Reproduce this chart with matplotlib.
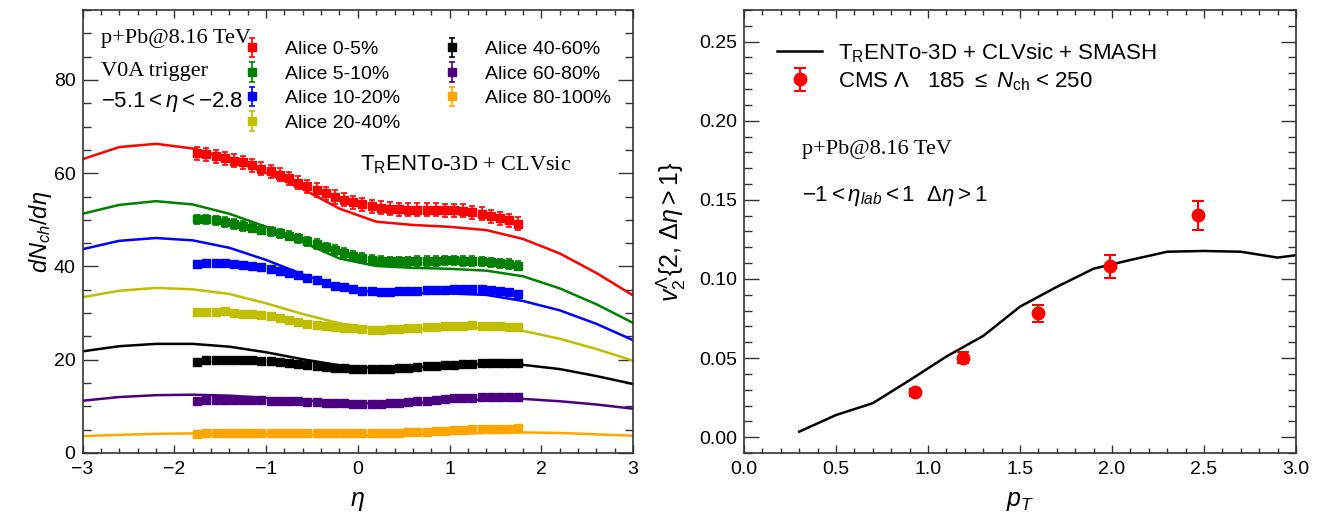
import numpy as np
import matplotlib
matplotlib.use("Agg")
import matplotlib.pyplot as plt
from matplotlib.ticker import MultipleLocator, FormatStrFormatter

plt.rcParams['font.family'] = ['Liberation Sans', 'DejaVu Sans']
plt.rcParams['mathtext.fontset'] = 'custom'
plt.rcParams['mathtext.rm'] = 'Liberation Sans'
plt.rcParams['mathtext.it'] = 'Liberation Sans:italic'
plt.rcParams['mathtext.bf'] = 'Liberation Sans:bold'
plt.rcParams['mathtext.sf'] = 'Liberation Sans'

# ---- left panel: dNch/deta, ALICE data (eta bins of 0.1) ----
eta_data = np.round(np.arange(-1.75, 1.76, 0.1), 2)

alice_0_5 = [64.3, 64.1, 63.6, 63.2, 62.7, 62.3, 61.7, 61.0, 60.4, 59.7, 58.9, 58.0, 57.2, 56.4,
             55.7, 54.9, 54.3, 53.8, 53.3, 52.9, 52.6, 52.4, 52.3, 52.2, 52.2, 52.2, 52.2, 52.1,
             52.1, 51.9, 51.6, 51.3, 50.8, 50.3, 49.9, 49.2]
alice_5_10 = [50.1, 50.1, 49.9, 49.5, 49.1, 48.7, 48.3, 47.9, 47.5, 47.1, 46.6, 46.0, 45.4, 44.8,
              44.1, 43.5, 42.9, 42.3, 41.8, 41.4, 41.2, 41.1, 41.1, 41.1, 41.2, 41.2, 41.2, 41.3,
              41.3, 41.2, 41.2, 41.1, 40.9, 40.7, 40.5, 40.2]
alice_10_20 = [40.6, 40.8, 40.8, 40.7, 40.5, 40.3, 40.1, 39.8, 39.5, 39.1, 38.6, 38.1, 37.5, 37.0,
               36.4, 35.9, 35.5, 35.1, 34.8, 34.7, 34.6, 34.6, 34.7, 34.7, 34.8, 34.9, 35.0, 35.0,
               35.1, 35.2, 35.2, 35.1, 35.0, 34.8, 34.6, 34.2]
alice_20_40 = [30.3, 30.3, 30.3, 30.4, 30.1, 29.9, 29.9, 29.6, 29.3, 29.0, 28.6, 28.1, 27.7, 27.4,
               27.2, 27.0, 26.8, 26.7, 26.5, 26.4, 26.4, 26.5, 26.6, 26.7, 26.8, 27.0, 27.1, 27.2,
               27.3, 27.3, 27.4, 27.3, 27.3, 27.2, 27.1, 27.0]
alice_40_60 = [19.5, 19.9, 20.0, 20.0, 20.0, 19.9, 19.9, 19.8, 19.7, 19.5, 19.3, 19.1, 18.9, 18.7,
               18.5, 18.3, 18.2, 18.1, 18.0, 18.0, 18.0, 18.1, 18.2, 18.3, 18.5, 18.6, 18.7, 18.8,
               18.9, 19.0, 19.1, 19.2, 19.3, 19.2, 19.2, 19.2]
alice_60_80 = [11.1, 11.4, 11.4, 11.4, 11.4, 11.3, 11.3, 11.3, 11.2, 11.2, 11.1, 11.1, 11.0, 10.9,
               10.8, 10.7, 10.7, 10.6, 10.6, 10.6, 10.6, 10.7, 10.8, 10.9, 11.1, 11.2, 11.4, 11.5,
               11.7, 11.8, 11.9, 12.0, 12.1, 12.1, 12.1, 12.1]
alice_80_100 = [4.1, 4.3, 4.3, 4.3, 4.3, 4.3, 4.3, 4.3, 4.3, 4.3, 4.3, 4.3, 4.3, 4.2, 4.2, 4.2,
                4.2, 4.2, 4.2, 4.2, 4.2, 4.3, 4.3, 4.4, 4.5, 4.6, 4.7, 4.8, 4.9, 5.0, 5.1, 5.2,
                5.2, 5.2, 5.2, 5.3]
alice_err = [1.4, 1.0, 0.6, 0.3, 0.2, 0.15, 0.1]

# ---- TRENTo-3D + CLVsic curves ----
eta_model = [-3.0, -2.6, -2.2, -1.8, -1.4, -1.0, -0.6, -0.2, 0.2, 0.6, 1.0, 1.4, 1.8, 2.2, 2.6, 3.0]
model_0_5 = [63.0, 65.6, 66.3, 65.3, 63.0, 60.1, 56.6, 52.4, 49.6, 48.9, 48.5, 47.8, 45.9, 42.8, 38.6, 33.8]
model_5_10 = [51.3, 53.2, 54.0, 53.3, 51.3, 48.5, 45.2, 41.7, 40.1, 39.7, 39.5, 39.1, 37.9, 35.3, 31.9, 27.9]
model_10_20 = [43.7, 45.5, 46.1, 45.6, 44.0, 41.4, 38.3, 35.6, 34.4, 34.3, 34.2, 33.9, 32.6, 30.6, 27.7, 24.2]
model_20_40 = [33.4, 34.8, 35.4, 35.1, 34.1, 32.1, 29.8, 27.8, 26.7, 26.6, 26.8, 26.8, 26.2, 24.5, 22.3, 19.8]
model_40_60 = [21.8, 22.9, 23.4, 23.4, 22.8, 21.6, 20.1, 18.8, 18.2, 18.4, 18.8, 19.1, 18.9, 18.0, 16.5, 14.8]
model_60_80 = [11.2, 12.0, 12.4, 12.5, 12.3, 11.8, 11.3, 10.8, 10.6, 10.7, 11.1, 11.5, 11.6, 11.1, 10.4, 9.5]
model_80_100 = [3.6, 3.9, 4.1, 4.2, 4.2, 4.1, 3.9, 3.8, 3.8, 3.9, 4.1, 4.3, 4.4, 4.3, 4.0, 3.7]

labels = ['Alice 0-5%', 'Alice 5-10%', 'Alice 10-20%', 'Alice 20-40%',
          'Alice 40-60%', 'Alice 60-80%', 'Alice 80-100%']
colors = ['#ff0000', '#008000', '#0000ff', '#bfbf00', '#000000', '#4b0082', '#ffa500']

# ---- right panel: v2 of Lambda ----
pt_model = [0.3, 0.5, 0.7, 0.9, 1.1, 1.3, 1.5, 1.7, 1.9, 2.1, 2.3, 2.5, 2.7, 2.9, 3.0]
v2_model = [0.0035, 0.014, 0.0215, 0.036, 0.051, 0.064, 0.0825, 0.095, 0.1065, 0.112,
            0.1172, 0.1177, 0.1172, 0.1135, 0.115]
pt_cms = [0.93, 1.19, 1.60, 1.99, 2.47]
v2_cms = [0.0285, 0.0502, 0.0782, 0.1080, 0.1402]
v2_cms_err = [0.0022, 0.0034, 0.0054, 0.0072, 0.0090]


def style_axes(ax):
    ax.tick_params(which='both', direction='in', top=True, right=True,
                   labelsize=14, width=1.0, color='#333333')
    ax.tick_params(axis='y', which='major', length=11, pad=5)
    ax.tick_params(axis='y', which='minor', length=5.5)
    ax.tick_params(axis='x', which='major', length=6, pad=6)
    ax.tick_params(axis='x', which='minor', length=3.5)
    for sp in ax.spines.values():
        sp.set_linewidth(1.2)
        sp.set_color('#333333')


fig = plt.figure(figsize=(13.23, 5.17), dpi=100)
ax1 = fig.add_axes([0.0624, 0.1238, 0.4161, 0.8569])
ax2 = fig.add_axes([0.5624, 0.1238, 0.4172, 0.8569])

alice_sets = [alice_0_5, alice_5_10, alice_10_20, alice_20_40, alice_40_60, alice_60_80, alice_80_100]
model_sets = [model_0_5, model_5_10, model_10_20, model_20_40, model_40_60, model_60_80, model_80_100]

for data, model, err, lab, col in zip(alice_sets, model_sets, alice_err, labels, colors):
    ax1.plot(eta_model, model, color=col, lw=1.8, zorder=2)
    ax1.errorbar(eta_data, data, yerr=err, fmt='s', color=col, ms=6, capsize=2.5,
                 elinewidth=1.2, capthick=1.2, label=lab, zorder=3)

ax1.set_xlim(-3, 3)
ax1.set_ylim(0, 95)
ax1.xaxis.set_major_locator(MultipleLocator(1))
ax1.xaxis.set_minor_locator(MultipleLocator(0.2))
ax1.yaxis.set_minor_locator(MultipleLocator(5))
ax1.set_yticks([0, 20, 40, 60, 80])
style_axes(ax1)
ax1.set_xlabel(r'$\eta$', fontsize=18, labelpad=8)
ax1.set_ylabel(r'$dN_{ch}/d\eta$', fontsize=17, labelpad=0)

ax1.text(0.033, 0.935, 'p+Pb@8.16 TeV', transform=ax1.transAxes, fontsize=16,
         family='Liberation Serif', va='center')
ax1.text(0.033, 0.862, 'V0A trigger', transform=ax1.transAxes, fontsize=16,
         family='Liberation Serif', va='center')
ax1.text(0.033, 0.793, r'$-5.1 < \eta < -2.8$', transform=ax1.transAxes, fontsize=16,
         va='center')
ax1.text(0.504, 0.65, r'$\mathrm{T_RENTo}$-3D + CLVsic', transform=ax1.transAxes, fontsize=16,
         family='Liberation Serif', va='center')

ax1.legend(ncol=2, loc='upper left', bbox_to_anchor=(0.266, 0.962), frameon=False,
           fontsize=14, handlelength=1.0, handletextpad=1.2, columnspacing=2.15,
           labelspacing=0.36, borderpad=0.2)

# right panel
ax2.plot(pt_model, v2_model, color='black', lw=1.8,
         label=r'T$_\mathrm{R}$ENTo-3D + CLVsic + SMASH')
ax2.errorbar(pt_cms, v2_cms, yerr=v2_cms_err, fmt='o', color='red', ms=9, capsize=4,
             elinewidth=1.5, capthick=1.5,
             label=r'CMS Λ   185 $\leq$ $N_\mathrm{ch}$ < 250')
ax2.set_xlim(0, 3)
ax2.set_ylim(-0.01, 0.27)
ax2.xaxis.set_major_locator(MultipleLocator(0.5))
ax2.xaxis.set_minor_locator(MultipleLocator(0.1))
ax2.yaxis.set_major_locator(MultipleLocator(0.05))
ax2.yaxis.set_minor_locator(MultipleLocator(0.01))
ax2.xaxis.set_major_formatter(FormatStrFormatter('%.1f'))
ax2.yaxis.set_major_formatter(FormatStrFormatter('%.2f'))
style_axes(ax2)
ax2.set_xlabel(r'$p_T$', fontsize=18, labelpad=8)
ax2.set_ylabel(r'$v_2^{\Lambda}\{2,\,\Delta\eta > 1\}$', fontsize=18, labelpad=8)

ax2.text(0.105, 0.685, 'p+Pb@8.16 TeV', transform=ax2.transAxes, fontsize=16,
         family='Liberation Serif', va='center')
ax2.text(0.105, 0.58, r'$-1 < \eta_{lab} < 1\ \ \Delta\eta > 1$', transform=ax2.transAxes,
         fontsize=16, va='center')
ax2.legend(loc='upper left', bbox_to_anchor=(0.024, 0.975), frameon=False, fontsize=16,
           handlelength=2.0, handletextpad=0.75, labelspacing=0.25)

fig.savefig('out.png', dpi=100)
